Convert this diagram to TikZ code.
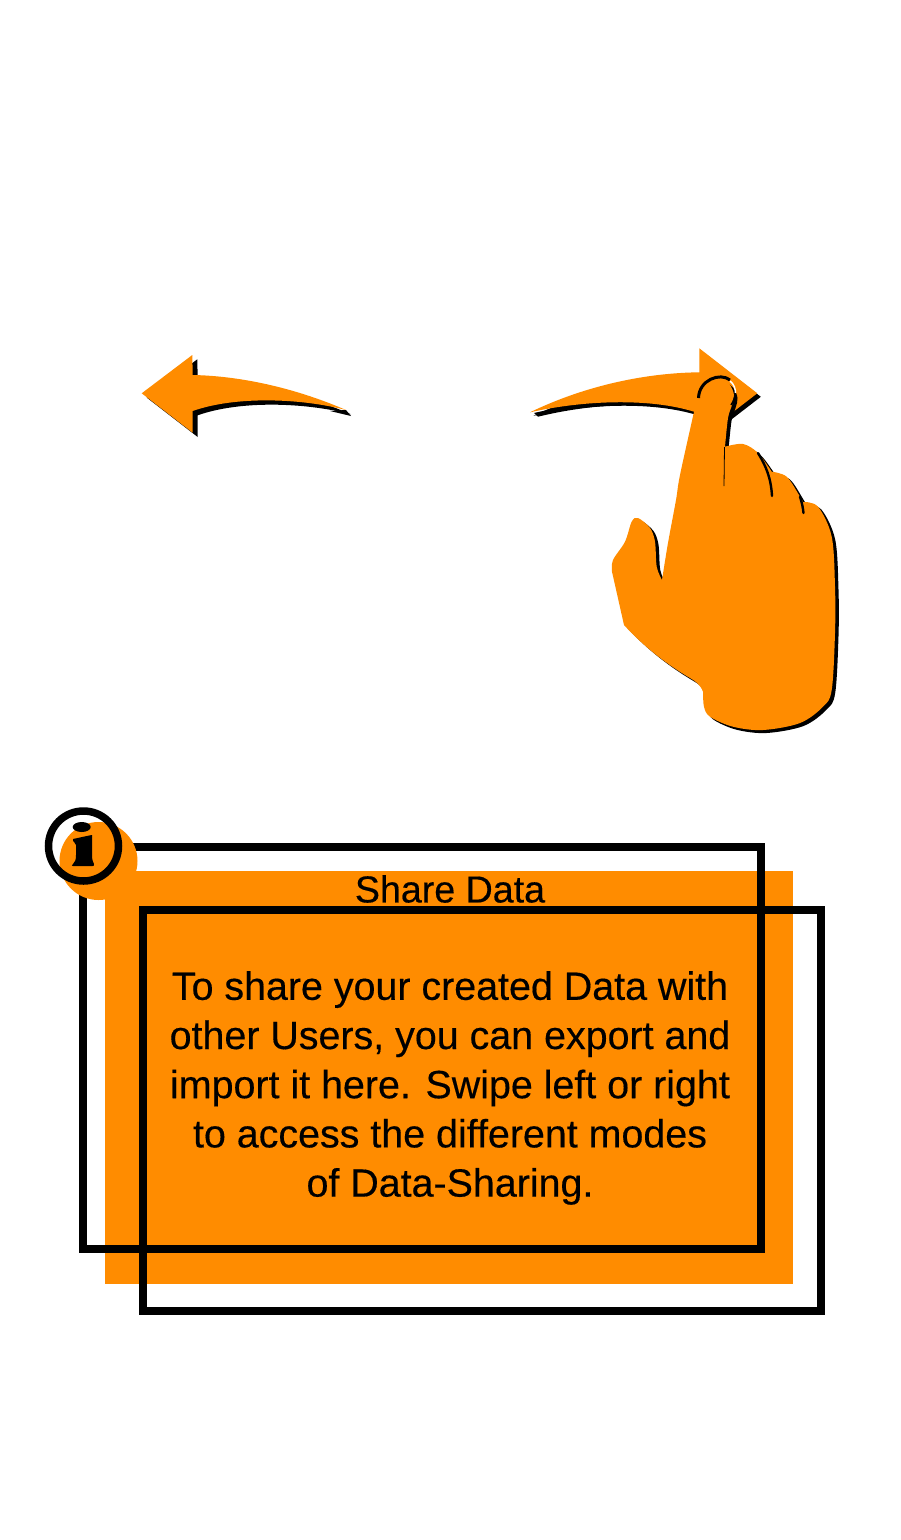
\documentclass[tikz,border=0pt]{standalone}
\usepackage{fontspec}
\usepackage{xcolor}
\setmainfont[FakeBold=0.35]{Liberation Sans}
\definecolor{swipeorange}{HTML}{FF8C00}
\newcommand{\leftarrowpath}{(141.7,393.3) -- (192.3,355) -- (192.7,375) .. controls (245,376) and (300,390) .. (346,410) .. controls (300,398) and (235,396) .. (192.7,411) -- (192.7,432.7) -- cycle}
\newcommand{\rightarrowpath}{(757.3,393.3) -- (699.3,348.3) -- (699.3,372.3) .. controls (640,373) and (580,388) .. (530,412.3) .. controls (585,400) and (650,398) .. (694,411.7) -- (699.3,438) -- cycle}
\newcommand{\handpath}{plot[smooth, tension=0.55] coordinates {(662,580) (668,543) (676,500) (680,475) (694,411.7) (698,393) (703,384) (716.7,379) (729,384) (734,395) (732,405) (728,418) (725,446.7)}
  -- plot[smooth, tension=0.55] coordinates {(725,446.7) (743,444) (758,453) (771.7,471.7)}
  -- plot[smooth, tension=0.55] coordinates {(771.7,471.7) (786.7,476.7) (800,496.7) (803,502)}
  -- plot[smooth, tension=0.55] coordinates {(803,502) (818,506.7) (831.7,536.7) (835,586.7) (835,633) (831.7,690) (823,706.7) (800,723) (763,730) (733,726.7) (710,716.7) (704,706.7) (703,691.7)}
  .. controls (700,684) and (695,681) .. (690,678) .. controls (668,665) and (645,648) .. (624,625) -- (612,571.7)
  -- plot[smooth, tension=0.55] coordinates {(612,571.7) (613,560) (625,541.7) (631.7,521.7) (638,518) (650,528) (655,541.7) (656.7,566.7) (662,580)} -- cycle}
\begin{document}
\begin{tikzpicture}[x=1pt, y=-1pt,
        brand/.style={fill=swipeorange},
        shade/.style={fill=black},
        frame/.style={draw=black, line width=8pt, miter limit=10},
        crease/.style={draw=black, line width=2.4pt, line cap=round},
        ring/.style={draw=black, line width=7.5pt},
        title/.style={font=\fontsize{37.6}{45}\selectfont, inner sep=0pt},
        body/.style={font=\fontsize{39.4}{49.2}\selectfont, align=center, inner sep=0pt}
    ]
        \useasboundingbox (0,0) rectangle (900,1540);

        % swipe arrows
        \path[shade, shift={(5,4.3)}] \leftarrowpath;
        \path[shade] (346,410) -- (351,416) -- (330,411) -- cycle;
        \path[brand] \leftarrowpath;
        \path[shade, shift={(3.5,3.5)}] \rightarrowpath;
        \path[shade] (538,416.7) .. controls (590,404) and (650,400) .. (696,414) -- (690,408) .. controls (640,400) and (580,402) .. (534,413) -- cycle;
        \path[brand] \rightarrowpath;

        % hand
        \path[shade, shift={(3.5,3)}] \handpath;
        \path[brand] \handpath;
        \path[crease] (758,453) .. controls (766,466) and (771,478) .. (772,496);
        \path[crease] (800,496.7) .. controls (802,503) and (803,508) .. (803.5,513);
        \path[draw=black, line width=0.8pt] (724.5,447) -- (724,486);
        \path[draw=black, line width=3pt] (698.5,398) .. controls (699,380) and (720,372) .. (730,380);
        \path[draw=white, line width=1.5pt] (730,381) .. controls (734,384) and (735.5,389) .. (735.5,393);
        \path[draw=black, line width=1.5pt] (735,393) .. controls (735,398) and (733,402) .. (731,405);

        % card
        \path[brand] (105,871) rectangle (793,1283.5);
        \path[frame] (83,847) rectangle (761,1249);
        \path[frame] (143,910) rectangle (821,1311);

        % info badge
        \node[brand, circle, minimum size=78pt, inner sep=0pt] (badge) at (98.5,861) {};
        \node[ring, circle, minimum size=70pt, inner sep=0pt] (infoicon) at (83.5,846) {};
        \path[shade] (81.7,827) ellipse (9 and 5);
        \path[shade] (73,839) .. controls (78,838) and (86,836) .. (92,835) -- (92,855) .. controls (92,860) and (93,862) .. (94,864) .. controls (95,867) and (92,866) .. (83,866) .. controls (73,866) and (70,867) .. (73,864) .. controls (75,862) and (76,860) .. (76,855) -- (76,845) .. controls (76,842) and (72,842) .. (73,839) -- cycle;

        % texts
        \node[title] (heading) at (450,889) {Share Data};
        \node[body] (message) at (450,1088) {To share your created Data with\\other Users, you can export and\\import it here. Swipe left or right\\to access the different modes\\of Data-Sharing.};
    \end{tikzpicture}
\end{document}
